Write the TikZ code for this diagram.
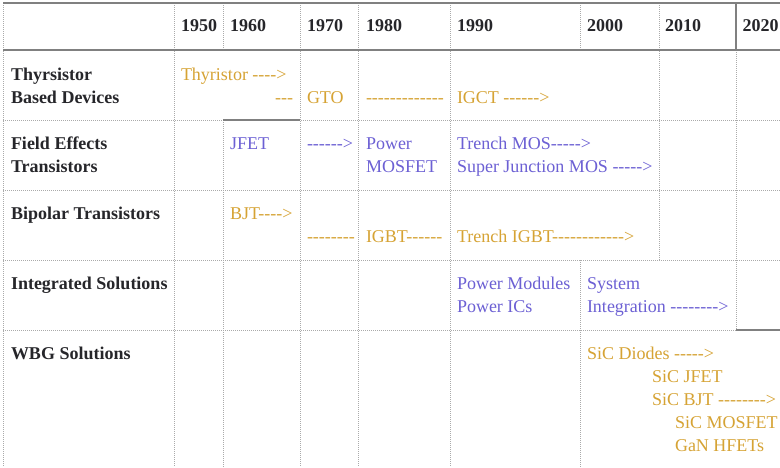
\documentclass[tikz,border=0pt]{standalone}
\usepackage{fontspec}
\setmainfont{Liberation Serif}[Ligatures=TeXOff]
\definecolor{amberc}{RGB}{214,163,52}
\definecolor{violetc}{RGB}{108,96,212}
\definecolor{inkc}{RGB}{38,38,42}
\definecolor{rulec}{RGB}{128,128,128}
\definecolor{dotc}{RGB}{170,170,170}
\begin{document}
\begin{tikzpicture}[x=1pt,y=-1pt,
  dotline/.style={draw=dotc, line width=0.9pt, dash pattern=on 1pt off 1pt},
  solidline/.style={draw=rulec, line width=1.5pt},
  txt/.style={anchor=base west, inner sep=0pt, outer sep=0pt, font=\fontsize{18}{23}\selectfont},
  hdr/.style={txt, font=\fontsize{18}{23}\selectfont\bfseries, text=inkc},
  amb/.style={txt, text=amberc},
  vio/.style={txt, text=violetc}]
\useasboundingbox (0,0) rectangle (780,467);
\fill[white] (0,0) rectangle (780,467);

% ---- dotted grid ----
\draw[dotline] (3,3) -- (3,467);
\foreach \y in {120,190,260,330} \draw[dotline] (3,\y) -- (780,\y);
\draw[dotline] (174,3) -- (174,467);
\draw[dotline] (223,3) -- (223,50);
\draw[dotline] (223,120) -- (223,467);
\draw[dotline] (300,3) -- (300,467);
\draw[dotline] (358,3) -- (358,467);
\draw[dotline] (450,3) -- (450,467);
\draw[dotline] (580,3) -- (580,50);
\draw[dotline] (580,260) -- (580,467);
\draw[dotline] (659,3) -- (659,260);
\draw[dotline] (736,50) -- (736,330);

% ---- solid rules ----
\draw[solidline] (3,3) -- (780,3);
\draw[solidline] (3,50) -- (780,50);
\draw[solidline] (736,3) -- (736,50);
\draw[solidline] (223,120) -- (300,120);
\draw[solidline] (736,330) -- (780,330);

% ---- year headings ----
\node[hdr] (y1950) at (181,31.5) {1950};
\node[hdr] (y1960) at (230,31.5) {1960};
\node[hdr] (y1970) at (307,31.5) {1970};
\node[hdr] (y1980) at (366,31.5) {1980};
\node[hdr] (y1990) at (457,31.5) {1990};
\node[hdr] (y2000) at (587,31.5) {2000};
\node[hdr] (y2010) at (665,31.5) {2010};
\node[hdr] (y2020) at (742.5,31.5) {2020};

% ---- row headings ----
\node[hdr] (r1a) at (11,80) {Thyrsistor};
\node[hdr] (r1b) at (11,103) {Based Devices};
\node[hdr] (r2a) at (11,149.5) {Field Effects};
\node[hdr] (r2b) at (11,172.5) {Transistors};
\node[hdr] (r3a) at (11,219.5) {Bipolar Transistors};
\node[hdr] (r4a) at (11,289.5) {Integrated Solutions};
\node[hdr] (r5a) at (11,359.5) {WBG Solutions};

% ---- thyristor row ----
\node[amb] (thy) at (181,80) {Thyristor ---->};
\node[amb, anchor=base east] (thyd) at (293,103) {---};
\node[amb] (gto) at (307,103) {GTO};
\node[amb] (gtod) at (366,103) {-------------};
\node[amb] (igct) at (457,103) {IGCT ------>};

% ---- field effect row ----
\node[vio] (jfet) at (230,149.5) {JFET};
\node[vio] (jfetd) at (307,149.5) {------>};
\node[vio] (pmos1) at (366,149.5) {Power};
\node[vio] (pmos2) at (366,172.5) {MOSFET};
\node[vio] (tmos) at (457,149.5) {Trench MOS----->};
\node[vio] (sjmos) at (457,172.5) {Super Junction MOS ----->};

% ---- bipolar row ----
\node[amb] (bjt) at (230,219.5) {BJT---->};
\node[amb] (bjtd) at (307,242.5) {--------};
\node[amb] (igbt) at (366,242.5) {IGBT------};
\node[amb] (tigbt) at (457,242.5) {Trench IGBT------------>};

% ---- integrated row ----
\node[vio] (pm) at (457,289.5) {Power Modules};
\node[vio] (pic) at (457,312.5) {Power ICs};
\node[vio] (sys1) at (587,289.5) {System};
\node[vio] (sys2) at (587,312.5) {Integration -------->};

% ---- wide band gap row ----
\node[amb] (sicd) at (587,359.5) {SiC Diodes ----->};
\node[amb] (sicj) at (652,382.5) {SiC JFET};
\node[amb] (sicb) at (652,405.5) {SiC BJT -------->};
\node[amb] (sicm) at (675,428.5) {SiC MOSFET};
\node[amb] (gan) at (675,451.5) {GaN HFETs};
\end{tikzpicture}
\end{document}
